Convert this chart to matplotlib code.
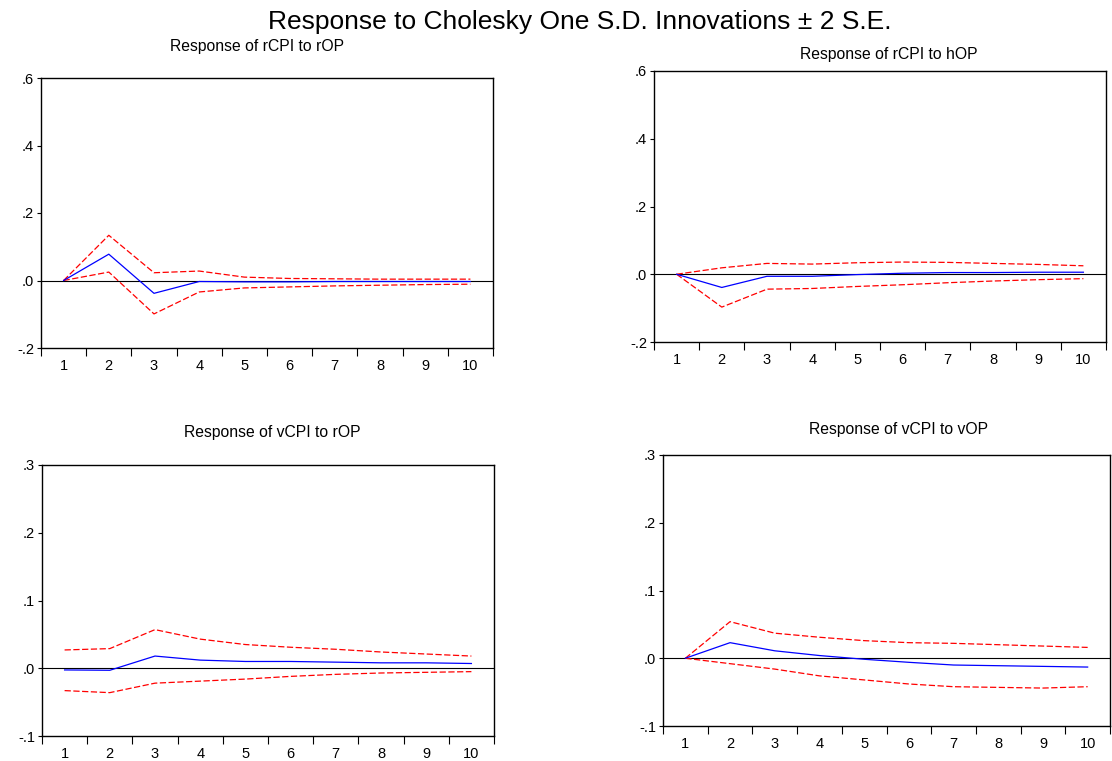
import numpy as np
import matplotlib.pyplot as plt
from matplotlib.ticker import FuncFormatter

plt.rcParams['font.family'] = ['Liberation Sans', 'DejaVu Sans']

# periods 1..10
periods = [1, 2, 3, 4, 5, 6, 7, 8, 9, 10]

# Response of rCPI to rOP
r_rop = [0.0, 0.078, -0.038, -0.003, -0.004, -0.004, -0.003, -0.003, -0.003, -0.003]
r_rop_hi = [0.0, 0.134, 0.023, 0.028, 0.010, 0.006, 0.005, 0.004, 0.004, 0.004]
r_rop_lo = [0.0, 0.025, -0.099, -0.034, -0.022, -0.019, -0.016, -0.014, -0.012, -0.011]

# Response of rCPI to hOP
r_hop = [0.0, -0.039, -0.006, -0.006, -0.001, 0.003, 0.005, 0.005, 0.006, 0.006]
r_hop_hi = [0.0, 0.019, 0.032, 0.030, 0.034, 0.036, 0.035, 0.032, 0.029, 0.025]
r_hop_lo = [0.0, -0.097, -0.044, -0.042, -0.036, -0.031, -0.025, -0.020, -0.016, -0.013]

# Response of vCPI to rOP
v_rop = [-0.0025, -0.003, 0.018, 0.012, 0.010, 0.010, 0.009, 0.008, 0.008, 0.007]
v_rop_hi = [0.027, 0.029, 0.057, 0.043, 0.035, 0.031, 0.028, 0.024, 0.021, 0.018]
v_rop_lo = [-0.033, -0.036, -0.022, -0.019, -0.016, -0.012, -0.009, -0.007, -0.006, -0.005]

# Response of vCPI to vOP
v_vop = [0.0, 0.023, 0.011, 0.004, -0.0015, -0.006, -0.010, -0.011, -0.012, -0.013]
v_vop_hi = [0.0, 0.054, 0.037, 0.031, 0.026, 0.023, 0.022, 0.020, 0.018, 0.016]
v_vop_lo = [0.0, -0.008, -0.016, -0.026, -0.032, -0.038, -0.042, -0.043, -0.044, -0.042]

W, H = 1112, 761
fig = plt.figure(figsize=(W / 100, H / 100), dpi=100)


def fmt(v, pos):
    s = f"{v:.1f}"
    return s.replace("0.", ".")


def panel(box, title, title_xy, mid, hi, lo, ylim, yticks):
    l, r, t, b = box
    ax = fig.add_axes([l / W, 1 - b / H, (r - l) / W, (b - t) / H])
    ax.plot(periods, hi, color='red', ls=(0, (5, 2)), lw=0.9)
    ax.plot(periods, lo, color='red', ls=(0, (5, 2)), lw=0.9)
    ax.plot(periods, mid, color='blue', lw=0.9)
    ax.axhline(0, color='black', lw=0.8, zorder=0)
    ax.set_xlim(0.5, 10.5)
    ax.set_ylim(*ylim)
    ax.set_yticks(yticks)
    ax.yaxis.set_major_formatter(FuncFormatter(fmt))
    # tick marks sit between periods, labels sit on periods
    ax.set_xticks(np.arange(0.5, 11, 1))
    ax.set_xticklabels([])
    ax.set_xticks(periods, minor=True)
    ax.set_xticklabels([str(p) for p in periods], minor=True)
    ax.tick_params(axis='x', which='major', direction='out', length=6, width=0.8)
    ax.tick_params(axis='x', which='minor', length=0, pad=8, labelsize=10.5)
    ax.tick_params(axis='y', direction='out', length=3, width=0.8, labelsize=10.5, pad=2)
    for s in ax.spines.values():
        s.set_linewidth(1.0)
    fig.text(title_xy[0] / W, 1 - title_xy[1] / H, title, ha='center', va='center',
             fontsize=11.3)
    return ax


panel((41, 493, 78, 348), 'Response of rCPI to rOP', (257, 46), r_rop, r_rop_hi, r_rop_lo,
      (-0.2, 0.6), [-0.2, 0.0, 0.2, 0.4, 0.6])
panel((654, 1106, 71, 342), 'Response of rCPI to hOP', (889, 54), r_hop, r_hop_hi, r_hop_lo,
      (-0.2, 0.6), [-0.2, 0.0, 0.2, 0.4, 0.6])
panel((42, 494, 465, 736), 'Response of vCPI to rOP', (272, 432), v_rop, v_rop_hi, v_rop_lo,
      (-0.1, 0.3), [-0.1, 0.0, 0.1, 0.2, 0.3])
panel((663, 1110, 455, 726), 'Response of vCPI to vOP', (899, 429), v_vop, v_vop_hi, v_vop_lo,
      (-0.1, 0.3), [-0.1, 0.0, 0.1, 0.2, 0.3])

fig.text(580 / W, 1 - 22 / H, 'Response to Cholesky One S.D. Innovations \u00b1 2 S.E.',
         ha='center', va='center', fontsize=19)

fig.savefig('out.png', dpi=100)
